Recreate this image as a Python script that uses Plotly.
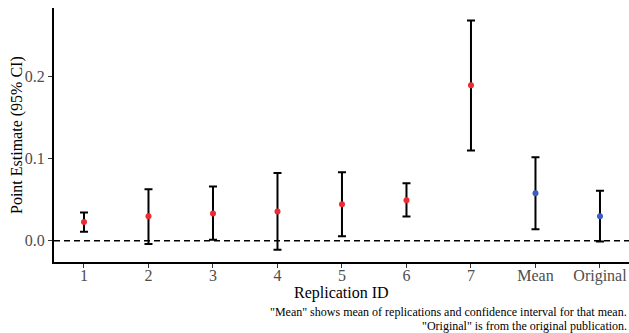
import plotly.graph_objects as go

categories = ["1", "2", "3", "4", "5", "6", "7", "Mean", "Original"]
estimates = [0.0228, 0.0297, 0.0333, 0.0357, 0.0444, 0.0493, 0.1895, 0.0578, 0.0298]
upper = [0.0345, 0.0626, 0.0662, 0.0825, 0.0834, 0.0700, 0.2686, 0.1017, 0.0610]
lower = [0.0110, -0.0040, 0.0010, -0.0110, 0.0054, 0.0296, 0.1100, 0.0139, -0.0010]
point_colors = ["#ee2a33"] * 7 + ["#3d5cc4", "#3d5cc4"]
y_ticks = [0.0, 0.1, 0.2]
y_tick_text = ["0.0", "0.1", "0.2"]
caption_lines = ['"Mean" shows mean of replications and confidence interval for that mean.',
                 '"Original" is from the original publication.']

FONT = "Liberation Serif"

fig = go.Figure()
fig.add_trace(go.Scatter(
    x=categories, y=estimates, mode="markers",
    marker=dict(color=point_colors, size=6, line=dict(width=0)),
    error_y=dict(type="data", symmetric=False,
                 array=[u - e for u, e in zip(upper, estimates)],
                 arrayminus=[e - l for e, l in zip(estimates, lower)],
                 color="black", thickness=2, width=4),
    showlegend=False, hoverinfo="skip",
))

fig.add_hline(y=0, line=dict(color="black", width=1.6, dash="6px,4px"), layer="below")

fig.update_layout(
    width=629, height=333,
    margin=dict(l=54, r=0, t=8, b=71),
    paper_bgcolor="white", plot_bgcolor="white",
    font=dict(family=FONT, color="black"),
    xaxis=dict(type="category", categoryorder="array", categoryarray=categories,
               range=[-0.465, 8.45], showgrid=False, zeroline=False,
               showline=True, linecolor="black", linewidth=2,
               ticks="outside", ticklen=4, tickwidth=1.2, tickcolor="#333333",
               ticklabelstandoff=-6,
               tickfont=dict(family=FONT, size=16, color="#4d4d4d")),
    yaxis=dict(range=[-0.026, 0.2838], showgrid=False, zeroline=False,
               tickvals=y_ticks, ticktext=y_tick_text,
               showline=True, linecolor="black", linewidth=2,
               ticks="outside", ticklen=4, tickwidth=1.2, tickcolor="#333333",
               tickfont=dict(family=FONT, size=16, color="#4d4d4d")),
)

fig.add_annotation(text="Replication ID", xref="paper", yref="paper", x=0.5, xanchor="center",
                   y=(262 - 293) / 254, yanchor="middle", showarrow=False,
                   font=dict(family=FONT, size=16, color="black"))
fig.add_annotation(text="Point Estimate (95% CI)", xref="paper", yref="paper",
                   x=-(54 - 17) / 575, xanchor="center", y=0.5, yanchor="middle",
                   textangle=-90, showarrow=False,
                   font=dict(family=FONT, size=16, color="black"))

for i, line in enumerate(caption_lines):
    fig.add_annotation(text=line, xref="paper", yref="paper", x=1.0, xanchor="right",
                       y=(262 - (312 + 14 * i)) / 254, yanchor="middle", showarrow=False,
                       font=dict(family=FONT, size=12, color="black"))

fig.write_html("out.html")
